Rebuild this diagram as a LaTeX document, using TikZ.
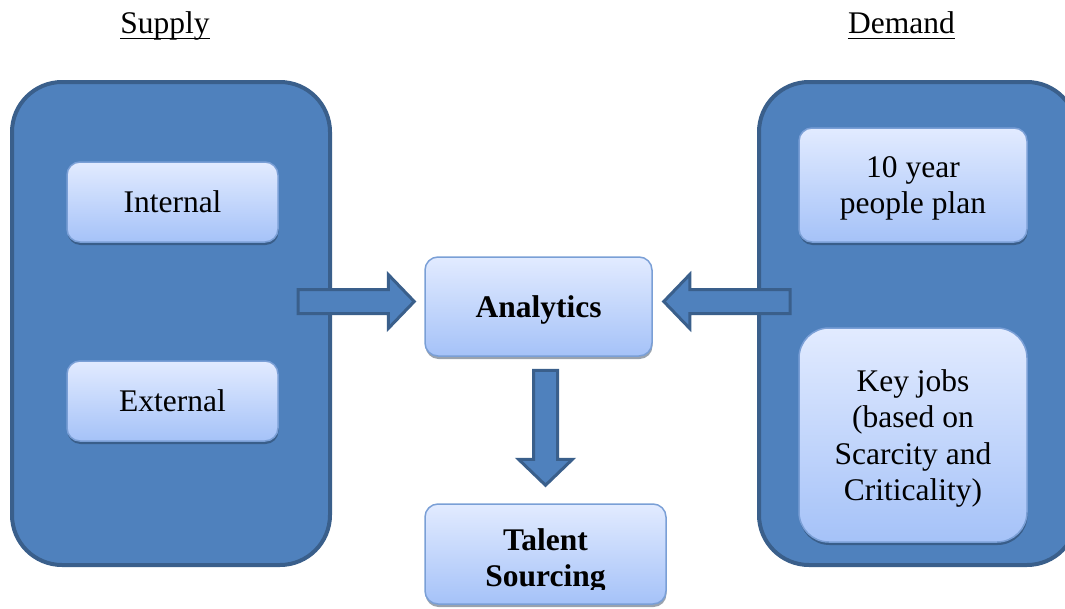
\documentclass[tikz,border=0pt]{standalone}
\usepackage{fontspec}
\setmainfont{Liberation Serif}
\usetikzlibrary{calc,shadows}
\definecolor{boxblue}{HTML}{4F81BD}
\definecolor{edgeblue}{HTML}{3A5F8B}
\definecolor{paletop}{HTML}{E2EBFF}
\definecolor{palebot}{HTML}{A5C2F8}
\definecolor{paleedge}{HTML}{7A9FD6}
\begin{document}
\begin{tikzpicture}[x=1pt,y=-1pt,
  font=\fontsize{31.5}{36.5}\selectfont,
  panel/.style={draw=edgeblue, line width=4pt, fill=boxblue,
    rounded corners=50pt, inner sep=0pt},
  card/.style={draw=paleedge, line width=1.5pt, top color=paletop,
    bottom color=palebot, rounded corners=13pt, align=center, inner sep=0pt,
    drop shadow={shadow xshift=0.5pt, shadow yshift=-3pt, opacity=0.45, fill=edgeblue!55!black}},
  title/.style={inner sep=0pt, anchor=base},
  uline/.style={line width=1.4pt},
  fatarrow/.style={draw=edgeblue, line width=3pt, fill=boxblue, line join=miter,
    to path={let \p1=(\tikztostart), \p2=(\tikztotarget),
      \n1={atan2(\y2-\y1,\x2-\x1)}, \n2={\n1+90} in
      ($(\p1)+(\n2:12pt)$) -- ($(\p2)+(\n1:-26pt)+(\n2:12pt)$)
      -- ($(\p2)+(\n1:-26pt)+(\n2:27pt)$) -- (\p2)
      -- ($(\p2)+(\n1:-26pt)+(\n2:-27pt)$) -- ($(\p2)+(\n1:-26pt)+(\n2:-12pt)$)
      -- ($(\p1)+(\n2:-12pt)$) -- cycle}}
]
\useasboundingbox (0,0) rectangle (1065,608);

% column headings
\node[title] (supplyhead) at (165,33) {Supply};
\node[title] (demandhead) at (901.5,33) {Demand};
\draw[uline] ([yshift=-5.5pt]supplyhead.base west) -- ([yshift=-5.5pt]supplyhead.base east);
\draw[uline] ([yshift=-5.5pt]demandhead.base west) -- ([yshift=-5.5pt]demandhead.base east);

% outer panels
\node[panel, minimum width=318pt, minimum height=483pt] (supply) at (171,323.5) {};
\node[panel, minimum width=318pt, minimum height=483pt] (demand) at (918,323.5) {};

% supply items
\node[card, minimum width=211pt, minimum height=80pt] (internal) at (172.5,202) {Internal};
\node[card, minimum width=211pt, minimum height=80pt] (external) at (172.5,401) {External};

% demand items
\node[card, minimum width=228pt, minimum height=114pt, text depth=0pt] (plan) at (913,185)
  {10 year\\people plan};
\node[card, minimum width=228pt, minimum height=214pt, rounded corners=30pt, text depth=0pt]
  (keyjobs) at (913,435) {Key jobs\\(based on\\Scarcity and\\Criticality)};

% centre column
\node[card, minimum width=227pt, minimum height=99pt, text depth=0pt, font=\fontsize{31.5}{36.5}\selectfont\bfseries]
  (analytics) at (538.5,306.5) {Analytics};
\node[card, minimum width=241pt, minimum height=100pt] (talent) at (545.5,554) {};
\begin{scope}
  \clip (424,480) rectangle (667,589);
  \node[align=center, inner sep=0pt, font=\fontsize{31.5}{36.5}\selectfont\bfseries]
    (talenttext) at (545.5,561) {Talent\\Sourcing};
\end{scope}

% block arrows
\coordinate (la-s) at (298,301.5);
\coordinate (la-e) at ([xshift=-10pt]analytics.west |- la-s);
\coordinate (ra-s) at (790,301.5);
\coordinate (ra-e) at ([xshift=11pt]analytics.east |- ra-s);
\coordinate (da-s) at ([yshift=-13.5pt]analytics.south -| talent);
\coordinate (da-e) at ([yshift=18pt]talent.north);
\draw[fatarrow] (la-s) to (la-e);
\draw[fatarrow] (ra-s) to (ra-e);
\draw[fatarrow] (da-s) to (da-e);
\end{tikzpicture}
\end{document}
